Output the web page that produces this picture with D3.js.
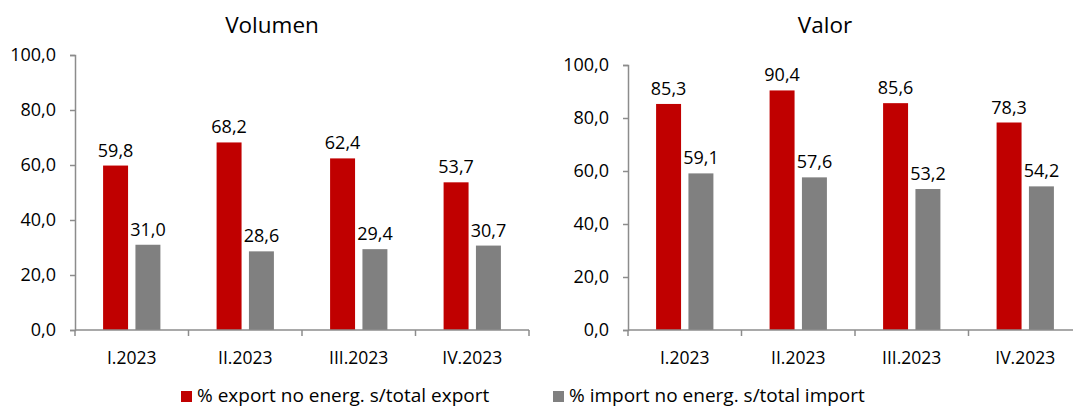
<!DOCTYPE html>
<html>
<head>
<meta charset="utf-8">
<script src="https://cdn.jsdelivr.net/npm/d3@7"></script>
<style>
  body { margin: 0; background: #fff; }
  svg text { font-family: "Open Sans", "Noto Sans", sans-serif; fill: #000; }
</style>
</head>
<body>
<div id="chart"></div>
<script>
// datos
var trimestres = ["I.2023", "II.2023", "III.2023", "IV.2023"];
var volExport = [59.8, 68.2, 62.4, 53.7];
var volImport = [31.0, 28.6, 29.4, 30.7];
var valExport = [85.3, 90.4, 85.6, 78.3];
var valImport = [59.1, 57.6, 53.2, 54.2];
var yTicks = [0, 20, 40, 60, 80, 100];
var serieNombres = ["% export no energ. s/total export", "% import no energ. s/total import"];
var colores = ["#C00000", "#808080"];

var W = 1073, H = 407;
var svg = d3.select("#chart").append("svg")
    .attr("width", W)
    .attr("height", H);

var fmt = function(v) { return d3.format(".1f")(v).replace(".", ","); };

function panel(titulo, x0, yTop, exp, imp) {
    var x = d3.scaleBand().domain(trimestres).range([x0, x0 + 454]);
    var y = d3.scaleLinear().domain([0, 100]).range([330, yTop]);
    var g = svg.append("g");

    // eje y
    var ay = g.append("g")
        .attr("transform", "translate(" + x0 + ",0)")
        .call(d3.axisLeft(y).tickValues(yTicks).tickSize(5).tickPadding(14).tickFormat(fmt));
    ay.selectAll("path, line").attr("stroke", "#8c8c8c").attr("stroke-width", 1.5);
    ay.selectAll("text").style("font-size", "18px").attr("fill", "#000");

    // barras
    var bw = x.bandwidth();
    var barW = bw * 0.22, gap = bw * 0.065;
    var datos = trimestres.map(function(t, i) { return { t: t, e: exp[i], m: imp[i] }; });

    var grp = g.selectAll(".grp").data(datos).enter().append("g");
    grp.append("rect")
        .attr("x", function(d) { return x(d.t) + bw / 2 - gap / 2 - barW; })
        .attr("y", function(d) { return y(d.e); })
        .attr("width", barW)
        .attr("height", function(d) { return y(0) - y(d.e); })
        .attr("fill", colores[0]);
    grp.append("rect")
        .attr("x", function(d) { return x(d.t) + bw / 2 + gap / 2; })
        .attr("y", function(d) { return y(d.m); })
        .attr("width", barW)
        .attr("height", function(d) { return y(0) - y(d.m); })
        .attr("fill", colores[1]);
    grp.append("text")
        .attr("x", function(d) { return x(d.t) + bw / 2 - gap / 2 - barW / 2; })
        .attr("y", function(d) { return y(d.e) - 9; })
        .attr("text-anchor", "middle")
        .style("font-size", "18px")
        .text(function(d) { return fmt(d.e); });
    grp.append("text")
        .attr("x", function(d) { return x(d.t) + bw / 2 + gap / 2 + barW / 2; })
        .attr("y", function(d) { return y(d.m) - 9; })
        .attr("text-anchor", "middle")
        .style("font-size", "18px")
        .text(function(d) { return fmt(d.m); });

    // eje x
    var ax = g.append("g")
        .attr("transform", "translate(0,330)");
    ax.append("line")
        .attr("x1", x0).attr("x2", x0 + 454)
        .attr("stroke", "#8c8c8c").attr("stroke-width", 1.5);
    ax.selectAll(".tk").data(trimestres.concat(["_fin"])).enter().append("line")
        .attr("x1", function(d, i) { return x0 + i * bw; })
        .attr("x2", function(d, i) { return x0 + i * bw; })
        .attr("y1", 0).attr("y2", 6)
        .attr("stroke", "#8c8c8c").attr("stroke-width", 1.5);
    ax.selectAll(".lb").data(trimestres).enter().append("text")
        .attr("x", function(d) { return x(d) + bw / 2; })
        .attr("y", 34)
        .attr("text-anchor", "middle")
        .style("font-size", "17.5px")
        .text(function(d) { return d; });

    // titulo
    g.append("text")
        .attr("x", x0 + 197)
        .attr("y", 33)
        .attr("text-anchor", "middle")
        .style("font-size", "22.5px")
        .text(titulo);
}

panel("Volumen", 75, 55, volExport, volImport);
panel("Valor", 628, 65, valExport, valImport);

// leyenda
var leg = svg.append("g");
var legX = [181, 553];
serieNombres.forEach(function(n, i) {
    leg.append("rect")
        .attr("x", legX[i]).attr("y", 391)
        .attr("width", 11).attr("height", 11)
        .attr("fill", colores[i]);
    leg.append("text")
        .attr("x", legX[i] + 16).attr("y", 402)
        .style("font-size", "19px")
        .text(n);
});
</script>
</body>
</html>
